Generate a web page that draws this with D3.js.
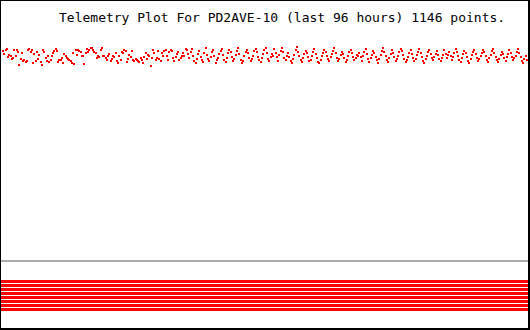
<!DOCTYPE html>
<html>
<head>
<meta charset="utf-8">
<script src="https://cdn.jsdelivr.net/npm/d3@7"></script>
<style>
  body { margin: 0; background: #fff; }
  svg { display: block; }
</style>
</head>
<body>
<svg id="chart" width="530" height="330" shape-rendering="crispEdges"></svg>
<script>
// chart text
const title = "Telemetry Plot For PD2AVE-10 (last 96 hours) 1146 points.";

// raw telemetry samples (0..255) left to right
const samples = [
  215,212,216,217,209,211,210,207,208,216,210,216,214,201,207,213,205,206,204,205,
  216,217,214,216,203,212,205,214,207,211,204,201,216,214,208,205,210,204,206,210,
  213,215,217,215,204,206,206,208,203,212,210,208,207,206,205,203,213,202,216,211,
  216,215,214,210,210,202,213,217,214,216,218,218,216,214,213,208,210,209,
  216,218,210,210,208,206,210,212,205,207,210,209,213,205,203,210,206,214,213,216,
  215,204,207,211,209,215,206,205,207,206,205,204,208,206,203,209,213,207,211,210,
  200,208,216,213,206,208,215,207,205,213,210,215,216,210,206,214,216,215,208,205,
  209,212,214,206,208,210,213,210,217,
  216,212,208,214,217,210,205,203,207,212,215,209,206,204,213,218,211,207,205,209,
  214,216,210,203,206,208,212,215,217,211,206,204,208,213,216,214,209,205,207,211,
  215,218,212,206,203,205,210,214,216,213,208,205,207,210,215,217,214,209,206,204,
  208,212,216,218,213,207,205,209,212,210,
  217,213,209,205,211,215,218,214,208,206,210,213,209,205,203,207,211,216,219,214,
  210,206,204,208,212,215,213,209,205,206,210,214,217,212,208,204,203,206,210,213,
  216,214,210,207,205,209,212,215,218,213,208,205,207,211,214,212,208,204,206,210,
  214,216,213,209,206,208,211,210,
  213,209,205,210,214,217,212,207,204,208,211,215,213,209,206,203,207,211,215,218,
  214,210,206,204,208,212,216,213,209,205,207,210,214,217,215,211,207,204,206,209,
  213,216,212,208,205,207,211,214,217,213,209,205,203,207,210,214,216,212,208,206,
  209,212,215,211,207,205,208,211,
  216,212,208,211,214,210,206,209,213,217,214,210,206,204,208,212,215,213,209,205,
  203,207,211,214,216,212,208,205,207,210,213,216,214,210,206,204,208,211,215,217,
  213,209,206,204,207,211,214,212,208,205,209,212,216,213,209,206,208,210,214,217,
  213,209,205,203,207,210,206
];

// status bits (all set over the whole period)
const bits = ["b0", "b1", "b2", "b3", "b4", "b5", "b6", "b7"];
const bitValues = [1, 1, 1, 1, 1, 1, 1, 1];

const svg = d3.select("#chart");

const x = d3.scaleLinear()
  .domain([0, samples.length - 1])
  .range([2, 526]);

const y = d3.scaleLinear()
  .domain([0, 255])
  .range([265, 10]);

// bit rows along the bottom
const yBits = d3.scaleBand()
  .domain(bits)
  .range([280, 311])
  .paddingInner(0.25)
  .paddingOuter(0);

// title
svg.append("text")
  .attr("x", 59)
  .attr("y", 22)
  .attr("font-family", "DejaVu Sans Mono, monospace")
  .attr("font-size", 13)
  .attr("fill", "#000")
  .attr("shape-rendering", "auto")
  .text(title);

// sample dots
svg.append("g")
  .attr("fill", "#ff0000")
  .selectAll("rect")
  .data(samples)
  .enter().append("rect")
    .attr("x", (d, i) => Math.round(x(i)))
    .attr("y", d => Math.round(y(d)))
    .attr("width", 2)
    .attr("height", 2);

// separator
svg.append("rect")
  .attr("x", 1)
  .attr("y", 260)
  .attr("width", 527)
  .attr("height", 2)
  .attr("fill", "#aaaaaa");

// bit lines
svg.append("g")
  .attr("fill", "#ff0000")
  .selectAll("rect")
  .data(bits.filter((b, i) => bitValues[i] === 1))
  .enter().append("rect")
    .attr("x", 1)
    .attr("y", d => yBits(d))
    .attr("width", 527)
    .attr("height", yBits.bandwidth());

// frame with heavier right/bottom edge
svg.append("rect").attr("x", 0).attr("y", 0).attr("width", 530).attr("height", 1).attr("fill", "#000");
svg.append("rect").attr("x", 0).attr("y", 0).attr("width", 1).attr("height", 330).attr("fill", "#000");
svg.append("rect").attr("x", 528).attr("y", 0).attr("width", 2).attr("height", 330).attr("fill", "#000");
svg.append("rect").attr("x", 0).attr("y", 328).attr("width", 530).attr("height", 2).attr("fill", "#000");
</script>
</body>
</html>
